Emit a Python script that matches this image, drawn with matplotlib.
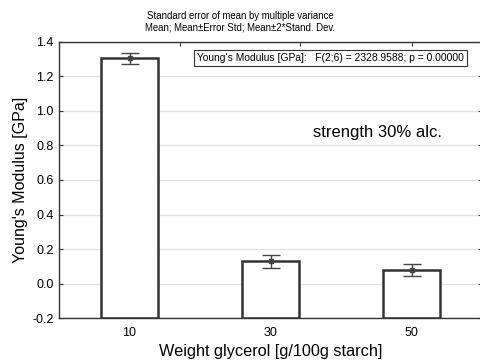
import numpy as np
import matplotlib
matplotlib.use('Agg')
import matplotlib.pyplot as plt

plt.rcParams['font.family'] = ['Liberation Sans', 'DejaVu Sans']

# -----------------------------
# data
# -----------------------------
groups = ['10', '30', '50']
means = [1.303, 0.129, 0.081]
errors = [0.032, 0.036, 0.034]

title_lines = ['Standard error of mean by multiple variance',
               'Mean; Mean\u00b1Error Std; Mean\u00b12*Stand. Dev.']
stats_text = "Young's Modulus [GPa]:   F(2;6) = 2328.9588; p = 0.00000"
note_text = 'strength 30% alc.'

# -----------------------------
# figure
# -----------------------------
fig = plt.figure(figsize=(4.8, 3.62), dpi=100)
ax = fig.add_axes([59 / 480, 1 - 318.3 / 362, 423 / 480, 276.6 / 362])

x = np.arange(len(groups))
ymin = -0.2
ax.set_ylim(ymin, 1.4)
ax.set_xlim(-0.5, 2.5)

ax.set_yticks(np.arange(-0.2, 1.41, 0.2))
ax.set_yticklabels([f'{v:.1f}' for v in np.arange(-0.2, 1.41, 0.2)])
ax.yaxis.grid(True, color='#e2e2e2', linewidth=1.0)
ax.set_axisbelow(True)

ax.bar(x, np.array(means) - ymin, bottom=ymin, width=0.4,
       color='white', edgecolor='#333333', linewidth=1.8, zorder=2)

ax.errorbar(x, means, yerr=errors, fmt='s', markersize=3.5,
            mfc='none', mec='#444444', ecolor='#444444', elinewidth=1.0,
            capsize=6.5, capthick=1.0, zorder=3)
ax.plot(x, means, 'o', markersize=1.5, color='#444444', zorder=4)

ax.set_xticks(x)
ax.set_xticklabels(groups)
ax.tick_params(direction='in', length=3, labelsize=9, color='#333333',
               right=True, top=False, pad=6)
ax.tick_params(axis='y', pad=4)

top = ax.secondary_xaxis('top')
top.set_xticks([0.36, 1.21, 2.0])
top.set_xticklabels([])
top.tick_params(direction='in', length=3, color='#333333')
top.spines['top'].set_visible(False)

for s in ['left', 'bottom', 'top', 'right']:
    ax.spines[s].set_color('#333333')
    ax.spines[s].set_linewidth(1.0)

ax.set_xlabel('Weight glycerol [g/100g starch]', fontsize=11.7, labelpad=4)
ax.set_ylabel("Young's Modulus [GPa]", fontsize=11.5, labelpad=3)

fig.text(0.5, 1 - 16 / 362, title_lines[0], ha='center', va='center', fontsize=6.9)
fig.text(0.5, 1 - 28 / 362, title_lines[1], ha='center', va='center', fontsize=6.9)

ax.text(0.327, 0.94, stats_text, transform=ax.transAxes, fontsize=7.35,
        va='center', ha='left',
        bbox=dict(boxstyle='square,pad=0.3', fc='white', ec='#333333', lw=0.8))
ax.text(0.6, 0.67, note_text, transform=ax.transAxes, fontsize=12,
        va='center', ha='left')

fig.savefig('out.png', dpi=100)
